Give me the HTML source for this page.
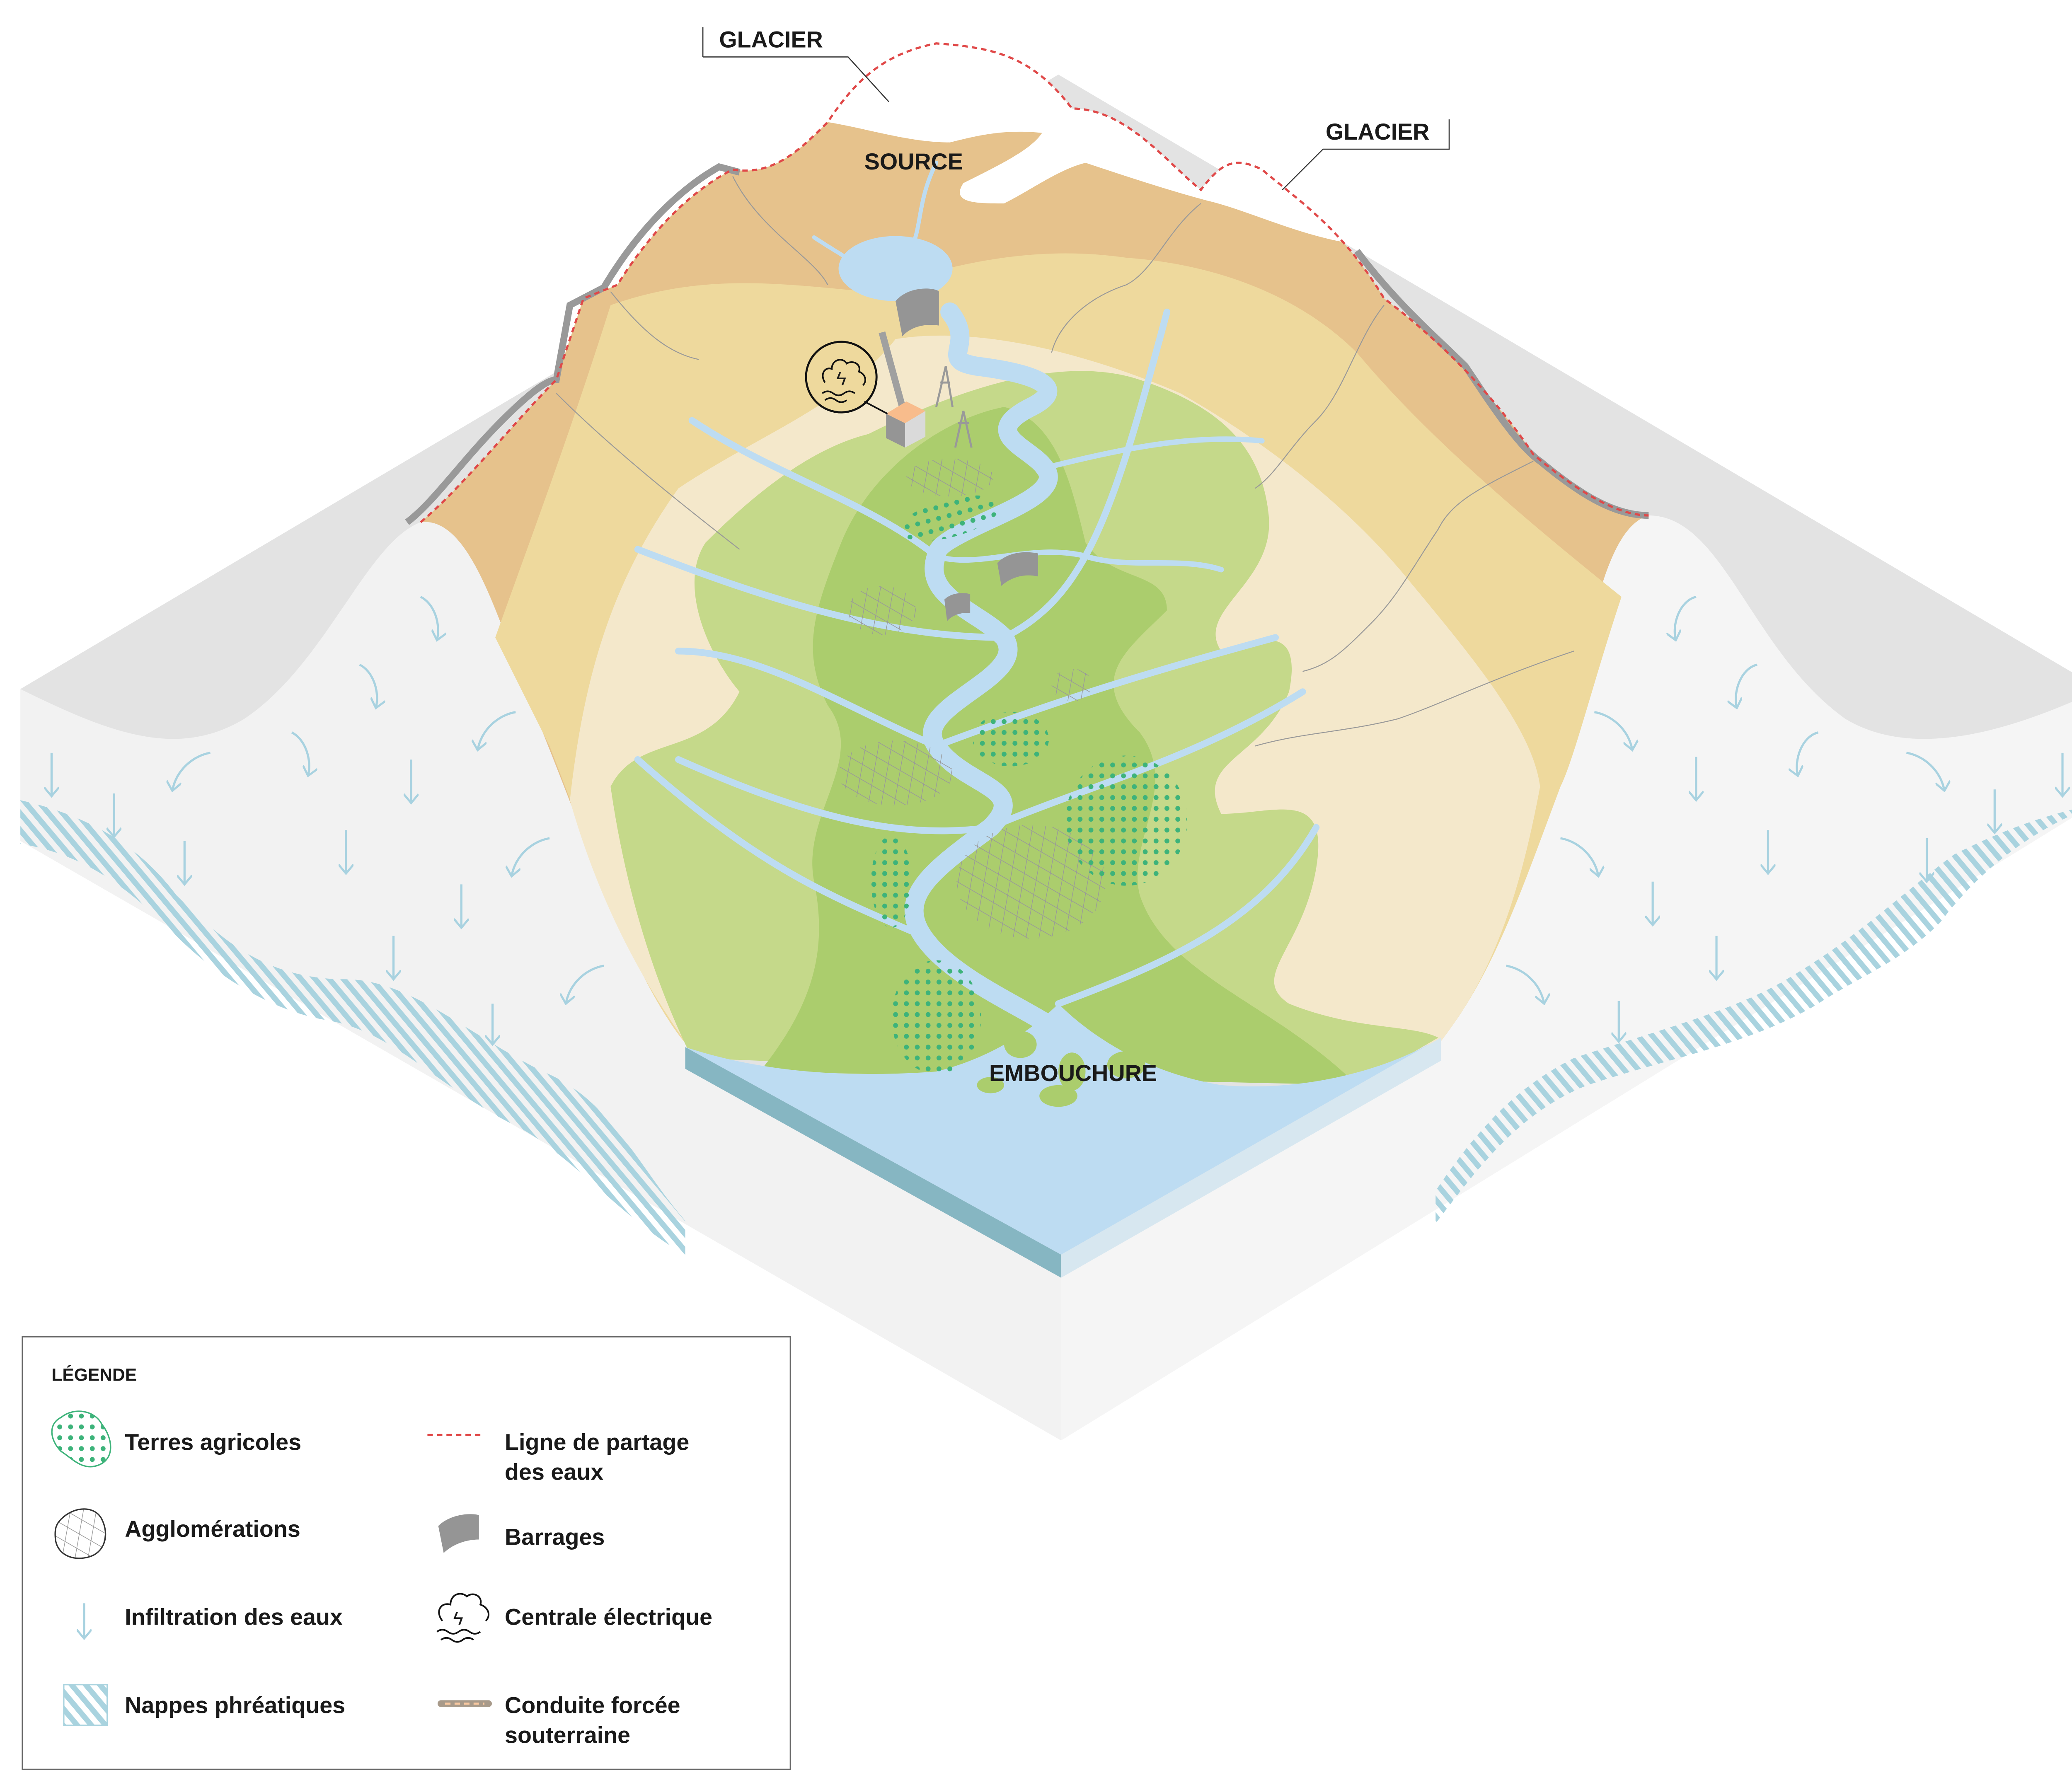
<!DOCTYPE html>
<html><head><meta charset="utf-8"><style>
html,body{margin:0;padding:0;background:#fff}
svg{display:block}
text{font-family:"Liberation Sans",sans-serif;font-weight:bold;fill:#1a1a1a}
</style></head><body>
<svg width="5108" height="4308" viewBox="0 0 1560 1316" preserveAspectRatio="none" xmlns="http://www.w3.org/2000/svg">
<defs>
<pattern id="hatch" width="8" height="8" patternUnits="userSpaceOnUse" patternTransform="rotate(-40)">
<rect width="4" height="8" fill="#a9d3df"/></pattern>
<pattern id="dots" width="8" height="8" patternUnits="userSpaceOnUse"><circle cx="4" cy="4" r="1.8" fill="#3db37a"/></pattern>
<pattern id="grid" width="10" height="10" patternUnits="userSpaceOnUse" patternTransform="rotate(30) skewX(20)"><path d="M0 0H10M0 0V10" stroke="#999" stroke-width="0.9" fill="none"/></pattern>
<marker id="ah" viewBox="0 0 10 10" refX="9" refY="5" markerWidth="11" markerHeight="11" markerUnits="userSpaceOnUse" orient="auto"><path d="M3 0L9 5L3 10" fill="none" stroke="#a8d2e0" stroke-width="1.4"/></marker>
</defs>

<polygon points="15,508 780,55 1548,508 782,950" fill="#e3e3e3"/>
<path d="M15,508 C80,540 130,560 180,530 C240,490 270,400 310,385 C350,380 370,470 400,540 C440,640 470,730 510,775 L782,925 L782,1062 L15,620 Z" fill="#f2f2f2"/>
<path d="M1548,508 C1480,540 1410,560 1360,530 C1290,480 1270,380 1215,380 C1180,390 1170,480 1150,560 C1120,660 1100,720 1060,770 L782,925 L782,1062 L1548,590 Z" fill="#f5f5f5"/>
<path d="M15,590 C60,600 100,620 130,660 C170,700 200,720 250,722 C300,720 340,760 400,790 C450,810 470,860 505,900 L505,925 C460,900 420,850 380,830 C320,800 290,760 240,752 C200,745 160,720 130,690 C90,650 60,630 15,622 Z" fill="url(#hatch)"/>
<path d="M1548,592 C1500,610 1460,640 1430,680 C1400,710 1370,720 1340,740 C1290,770 1230,780 1170,800 C1120,820 1090,860 1058,902 L1058,878 C1090,830 1120,800 1160,780 C1220,760 1280,745 1320,720 C1370,690 1400,660 1440,630 C1480,610 1510,600 1548,592 Z" fill="url(#hatch)"/>

<path d="M310,385 C340,360 380,310 410,280 L430,220 L455,210 C480,170 510,140 540,125 C570,130 590,110 610,90 C630,60 650,40 690,32 C730,35 760,40 790,80 C830,80 860,120 885,140 C900,120 910,115 930,125 C960,150 990,170 1020,220 C1060,250 1100,290 1130,335 C1160,360 1190,380 1215,380 C1180,390 1170,480 1150,560 C1120,660 1100,720 1060,770 L510,775 C470,730 440,640 400,540 C370,470 350,380 310,385 Z" fill="#e6c28c"/>
<path d="M365,470 C390,400 420,320 450,225 C520,200 580,210 640,215 C700,195 760,180 830,190 C900,195 960,220 1000,260 C1050,320 1120,380 1195,440 C1175,500 1160,560 1150,580 C1120,660 1100,720 1060,770 L510,775 C470,730 440,640 405,550 Z" fill="#eed99d"/>
<path d="M420,590 C430,500 450,430 500,360 C560,320 620,300 660,250 C720,240 800,260 870,290 C940,330 1000,380 1040,430 C1090,490 1130,540 1135,580 C1120,660 1100,720 1060,770 L510,775 C470,720 440,660 420,590 Z" fill="#f4e8cb"/>
<path d="M450,580 C470,540 520,560 545,510 C520,480 500,430 520,400 C560,360 600,330 640,320 C700,290 780,260 840,280 C900,300 930,330 935,380 C940,430 880,450 900,480 C930,470 960,460 950,510 C930,560 880,560 900,600 C940,600 980,580 970,640 C960,700 920,720 950,740 C1000,760 1040,755 1060,765 L1000,800 L510,780 C480,720 460,650 450,580 Z" fill="#c5d98a"/>
<path d="M620,400 C640,350 690,310 740,300 C780,310 790,360 800,400 C820,430 860,420 860,450 C830,480 800,500 840,540 C870,580 830,620 840,660 C860,720 940,740 1000,800 L560,790 C600,740 610,700 600,650 C590,600 640,560 610,520 C590,480 600,450 620,400 Z" fill="#abcd6d"/>

<path d="M610,90 C630,60 650,40 690,32 C730,35 760,40 790,80 C830,80 860,120 885,140 C900,120 910,115 930,125 C960,150 990,170 1000,180 C960,175 920,155 890,148 C860,140 830,130 800,120 C780,125 760,140 740,150 C720,150 700,150 710,135 C740,120 760,110 768,98 C740,95 720,100 700,105 C670,105 640,95 610,90 Z" fill="#fff"/>
<path d="M300,385 C320,370 340,340 370,310 C395,285 405,280 410,280 L420,225 L445,212 C470,170 500,140 530,123 L545,127" fill="none" stroke="#999" stroke-width="5"/>
<path d="M1000,185 C1030,225 1060,250 1080,270 C1100,300 1120,330 1135,340 C1165,365 1190,380 1215,380" fill="none" stroke="#999" stroke-width="5"/>
<path d="M310,385 C340,360 380,310 410,280 L430,220 L455,210 C480,170 510,140 540,125 C570,130 590,110 610,90 C630,60 650,40 690,32 C730,35 760,40 790,80 C830,80 860,120 885,140 C900,120 910,115 930,125 C960,150 990,170 1020,220 C1060,250 1100,290 1130,335 C1160,360 1190,380 1215,380" fill="none" stroke="#e04848" stroke-width="1.6" stroke-dasharray="4,3"/>

<g fill="none" stroke="#999" stroke-width="0.7">
<path d="M540,130 C560,170 600,190 610,210"/><path d="M450,215 C470,240 490,260 515,265"/>
<path d="M410,290 C450,330 500,370 545,405"/><path d="M885,150 C860,170 850,200 830,210 C800,220 780,240 775,260"/>
<path d="M1020,225 C1000,250 990,290 970,310 C950,330 940,350 925,360"/>
<path d="M1130,340 C1090,360 1070,370 1060,390 C1040,420 1030,440 1010,460 C990,480 980,490 960,495"/>
<path d="M1160,480 C1100,500 1060,520 1030,530 C990,540 960,540 925,550"/>
</g>

<path d="M505,772 C560,790 620,795 690,790 C730,780 760,760 780,740 C800,760 840,790 900,800 C960,805 1020,790 1062,765 L782,925 Z" fill="#bddcf2"/>
<polygon points="505,772 782,925 782,942 505,788" fill="#86b6c2"/>
<polygon points="1062,765 782,925 782,942 1062,782" fill="#d7e7f0"/>
<g fill="#abcd6d"><ellipse cx="752" cy="770" rx="12" ry="10"/><ellipse cx="790" cy="790" rx="10" ry="14"/><ellipse cx="780" cy="808" rx="14" ry="8"/><ellipse cx="730" cy="800" rx="10" ry="6"/><ellipse cx="830" cy="785" rx="14" ry="10"/></g>

<g fill="none" stroke="#bddcf2" stroke-linecap="round">
<path d="M700,230 C720,255 690,265 720,270 C760,275 790,285 760,300 C720,320 760,330 770,345 C790,370 690,390 690,410 C680,440 720,450 740,470 C760,500 670,520 690,550 C710,580 760,580 730,610 C690,640 660,660 680,690 C700,720 750,740 780,760" stroke-width="14"/>
<path d="M690,410 C720,420 760,400 800,410 C830,420 870,410 900,420" stroke-width="4"/>
<path d="M690,410 C640,370 570,350 510,310" stroke-width="5"/>
<path d="M740,470 C650,470 560,440 470,405" stroke-width="5"/>
<path d="M690,550 C620,520 560,480 500,480" stroke-width="5"/>
<path d="M730,610 C660,620 590,600 500,560" stroke-width="5"/>
<path d="M680,690 C610,660 560,640 470,560" stroke-width="5"/>
<path d="M740,470 C800,440 820,380 860,230" stroke-width="5"/>
<path d="M690,550 C770,520 830,500 940,470" stroke-width="5"/>
<path d="M730,610 C800,580 880,560 960,510" stroke-width="5"/>
<path d="M780,740 C860,710 930,680 970,610" stroke-width="5"/>
<path d="M770,345 C830,330 880,320 930,325" stroke-width="4"/>
<path d="M690,120 C675,150 680,170 670,185" stroke-width="3"/>
<path d="M600,175 C615,185 625,190 630,195" stroke-width="3"/>
</g>
<ellipse cx="660" cy="198" rx="42" ry="24" fill="#bddcf2"/>

<g fill="url(#grid)">
<ellipse cx="700" cy="352" rx="32" ry="14"/><ellipse cx="650" cy="450" rx="25" ry="18"/><ellipse cx="660" cy="570" rx="42" ry="24"/><ellipse cx="760" cy="650" rx="55" ry="42"/><ellipse cx="790" cy="505" rx="15" ry="12"/>
</g>
<g fill="url(#dots)">
<ellipse cx="700" cy="382" rx="38" ry="14" transform="rotate(-15 700 382)"/><ellipse cx="745" cy="545" rx="28" ry="20"/><ellipse cx="830" cy="605" rx="45" ry="48"/><ellipse cx="657" cy="650" rx="15" ry="34"/><ellipse cx="690" cy="750" rx="33" ry="42"/>
</g>

<g><path d="M660,222 C670,210 690,212 692,215 L692,240 C680,238 670,242 665,248 Z" fill="#959595"/>
<path d="M735,415 C745,405 760,407 765,408 L765,425 C752,422 742,428 738,432 Z" fill="#959595"/>
<path d="M696,442 C702,436 712,437 715,438 L715,452 C707,451 700,455 698,458 Z" fill="#959595"/></g>
<line x1="650" y1="245" x2="665" y2="300" stroke="#a0a0a0" stroke-width="5"/>
<polygon points="653,305 668,296 682,303 667,312" fill="#f8bc8c"/>
<polygon points="653,305 667,312 667,330 653,323" fill="#959595"/>
<polygon points="667,312 682,303 682,322 667,330" fill="#dadada"/>
<g stroke="#999" stroke-width="1.5" fill="none"><path d="M690,300 L697,270 L702,300 M693,282 H700"/><path d="M704,330 L710,303 L716,330 M706,312 H714"/></g>
<circle cx="620" cy="278" r="26" fill="#eed99d" stroke="#111" stroke-width="1.5"/>
<line x1="637" y1="296" x2="654" y2="305" stroke="#111" stroke-width="1.2"/>
<path d="M608,282 c-4,-6 0,-12 5,-10 c0,-7 8,-9 11,-4 c5,-3 11,1 9,6 c5,2 6,7 3,10" stroke="#111" fill="none" stroke-width="1.2"/>
<text x="620" y="284" font-size="14" text-anchor="middle" style="font-weight:normal">ϟ</text>
<path d="M606,290 q4,-3 8,0 q4,3 8,0 q4,-3 8,0 M608,295 q4,-3 8,0 q4,3 8,0" stroke="#111" fill="none" stroke-width="1.2"/>

<g stroke="#a8d2e0" stroke-width="1.6" fill="none" marker-end="url(#ah)">
<path d="M38,555 v32"/><path d="M84,585 v32"/><path d="M136,620 v32"/><path d="M255,612 v32"/><path d="M303,560 v32"/><path d="M340,652 v32"/><path d="M290,690 v32"/><path d="M363,740 v30"/>
<path d="M310,440 c10,5 15,20 12,32"/><path d="M265,490 c10,5 15,20 12,32"/><path d="M215,540 c10,5 15,20 12,32"/><path d="M155,555 c-12,2 -25,12 -28,28"/><path d="M380,525 c-12,2 -25,12 -28,28"/><path d="M405,618 c-12,2 -25,12 -28,28"/><path d="M445,712 c-12,2 -25,12 -28,28"/>
<path d="M1520,555 v32"/><path d="M1470,582 v32"/><path d="M1420,618 v32"/><path d="M1303,612 v32"/><path d="M1250,558 v32"/><path d="M1218,650 v32"/><path d="M1265,690 v32"/><path d="M1193,738 v30"/>
<path d="M1250,440 c-12,3 -18,20 -15,32"/><path d="M1295,490 c-12,3 -18,20 -15,32"/><path d="M1340,540 c-12,3 -18,20 -15,32"/><path d="M1405,555 c12,2 25,12 28,28"/><path d="M1175,525 c12,2 25,12 28,28"/><path d="M1150,618 c12,2 25,12 28,28"/><path d="M1110,712 c12,2 25,12 28,28"/>
</g>

<polyline points="518,42 518,20" fill="none" stroke="#333" stroke-width="0.8"/>
<polyline points="518,42 625,42 655,75" fill="none" stroke="#333" stroke-width="0.8"/>
<text x="530" y="35" font-size="17">GLACIER</text>
<polyline points="1068,88 1068,110 975,110 945,140" fill="none" stroke="#333" stroke-width="0.8"/>
<text x="977" y="103" font-size="17">GLACIER</text>
<text x="637" y="125" font-size="17">SOURCE</text>
<text x="729" y="797" font-size="17">EMBOUCHURE</text>

<rect x="16.5" y="985.5" width="566" height="319" fill="#fff" stroke="#666" stroke-width="1"/>
<text x="38" y="1018" font-size="13">LÉGENDE</text>
<path d="M45,1045 c10,-8 25,-5 30,5 c8,10 10,25 -2,30 c-12,5 -20,-5 -28,-10 c-8,-8 -10,-20 0,-25 z" fill="url(#dots)" stroke="#3db37a" stroke-width="1"/>
<text x="92" y="1069" font-size="17">Terres agricoles</text>
<path d="M45,1120 c10,-10 25,-10 30,0 c6,12 2,25 -10,28 c-12,3 -22,-2 -24,-12 c-1,-8 0,-12 4,-16 z" fill="url(#grid)" stroke="#333" stroke-width="1"/>
<text x="92" y="1133" font-size="17">Agglomérations</text>
<path d="M62,1182 v26" stroke="#a8d2e0" stroke-width="1.6" fill="none" marker-end="url(#ah)"/>
<text x="92" y="1198" font-size="17">Infiltration des eaux</text>
<rect x="47" y="1242" width="32" height="30" fill="url(#hatch)" stroke="#a9d3df"/>
<text x="92" y="1263" font-size="17">Nappes phréatiques</text>
<line x1="315" y1="1058" x2="357" y2="1058" stroke="#e04848" stroke-width="1.6" stroke-dasharray="4,3"/>
<text x="372" y="1069" font-size="17">Ligne de partage</text>
<text x="372" y="1091" font-size="17">des eaux</text>
<path d="M323,1125 c8,-8 22,-10 30,-8 v18 c-10,0 -20,4 -26,10 z" fill="#959595"/>
<text x="372" y="1139" font-size="17">Barrages</text>
<path d="M326,1195 c-6,-8 0,-14 6,-12 c0,-8 8,-10 12,-6 c5,-4 12,0 10,6 c6,2 8,8 4,12" stroke="#111" fill="none" stroke-width="1.2"/>
<path d="M322,1203 q4,-3 8,0 q4,3 8,0 q4,-3 8,0 q4,3 8,0 M325,1209 q4,-3 8,0 q4,3 8,0 q4,-3 8,0" stroke="#111" fill="none" stroke-width="1.2"/>
<text x="334" y="1198" font-size="14" style="font-weight:normal">ϟ</text>
<text x="372" y="1198" font-size="17">Centrale électrique</text>
<line x1="325" y1="1256" x2="360" y2="1256" stroke="#a89a8a" stroke-width="5" stroke-linecap="round"/>
<line x1="328" y1="1256" x2="357" y2="1256" stroke="#f8c8a0" stroke-width="1.5" stroke-dasharray="4,3"/>
<text x="372" y="1263" font-size="17">Conduite forcée</text>
<text x="372" y="1285" font-size="17">souterraine</text>
</svg>
</body></html>
